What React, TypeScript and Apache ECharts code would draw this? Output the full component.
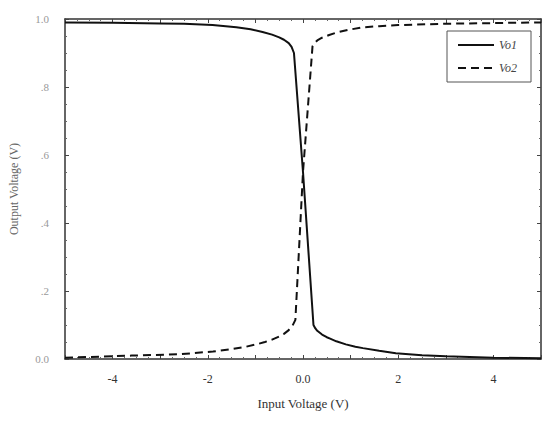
import React, { useEffect, useRef } from "react";
import * as echarts from "echarts";

const vo1: [number, number][] = [
  [-5, 0.99], [-4, 0.989], [-3, 0.987], [-2.5, 0.986], [-1.9, 0.982], [-1.4, 0.976],
  [-1.1, 0.97], [-0.85, 0.962], [-0.65, 0.954], [-0.5, 0.946], [-0.4, 0.939], [-0.3, 0.929],
  [-0.24, 0.918], [-0.19, 0.9], [0, 0.55], [0.22, 0.1], [0.26, 0.09], [0.3, 0.083],
  [0.4, 0.072], [0.5, 0.064], [0.57, 0.06], [0.7, 0.052], [0.9, 0.043], [1.1, 0.036],
  [1.26, 0.032], [1.6, 0.024], [1.95, 0.017], [2.5, 0.011], [3, 0.008], [4, 0.004], [5, 0.002],
];
const vo2: [number, number][] = [
  [-5, 0.004], [-4, 0.008], [-3.6, 0.01], [-2.58, 0.014], [-1.89, 0.022], [-1.5, 0.029],
  [-1.2, 0.036], [-0.95, 0.044], [-0.8, 0.05], [-0.65, 0.057], [-0.5, 0.066], [-0.4, 0.074],
  [-0.3, 0.085], [-0.22, 0.098], [-0.16, 0.115], [0, 0.55], [0.2, 0.92], [0.25, 0.93],
  [0.3, 0.937], [0.4, 0.945], [0.55, 0.953], [0.7, 0.96], [0.95, 0.968], [1.22, 0.975],
  [1.6, 0.979], [2, 0.982], [3, 0.986], [4, 0.988], [5, 0.99],
];
const xTickLabels: Record<string, string> = { "-4": "-4", "-2": "-2", "0": "0.0", "2": "2", "4": "4" };
const yTickLabels: Record<string, string> = { "0": "0.0", "0.2": ".2", "0.4": ".4", "0.6": ".6", "0.8": ".8", "1": "1.0" };

const FONT = "'Liberation Serif', 'DejaVu Serif', serif";

export default function App() {
  const ref = useRef<HTMLDivElement>(null);
  useEffect(() => {
    if (!ref.current) return;
    const chart = echarts.init(ref.current, undefined, { renderer: "svg" });
    const axisLine = { show: true, onZero: false, lineStyle: { color: "#333", width: 1.5 } };
    const tick = { show: true, inside: true, length: 4, lineStyle: { color: "#444" } };
    const minor = { show: true, splitNumber: 4, length: 2, lineStyle: { color: "#666" } };
    chart.setOption({
      animation: false,
      backgroundColor: "#fff",
      grid: { left: 63, right: 8, top: 19, bottom: 68 },
      legend: {
        right: 18,
        top: 31,
        orient: "vertical",
        data: ["Vo1", "Vo2"],
        itemWidth: 36,
        itemHeight: 10,
        itemGap: 11,
        padding: [8, 14, 8, 10],
        borderColor: "#555",
        borderWidth: 1,
        itemStyle: { opacity: 0 },
        textStyle: { fontFamily: FONT, fontStyle: "italic", fontSize: 12, color: "#444" },
      },
      xAxis: [
        {
          type: "value",
          min: -5,
          max: 5,
          interval: 1,
          name: "Input Voltage (V)",
          nameLocation: "middle",
          nameGap: 38,
          nameTextStyle: { fontFamily: FONT, fontSize: 13, color: "#333" },
          axisLine,
          axisTick: tick,
          minorTick: minor,
          splitLine: { show: false },
          axisLabel: {
            margin: 14,
            fontFamily: FONT,
            fontSize: 12,
            color: "#333",
            formatter: (v: number) => xTickLabels[String(v)] ?? "",
          },
        },
        {
          type: "value",
          position: "top",
          min: -5,
          max: 5,
          interval: 1,
          axisLine,
          axisTick: tick,
          minorTick: minor,
          splitLine: { show: false },
          axisLabel: { show: false },
        },
      ],
      yAxis: [
        {
          type: "value",
          min: 0,
          max: 1,
          interval: 0.2,
          name: "Output Voltage (V)",
          nameLocation: "middle",
          nameGap: 45,
          nameTextStyle: { fontFamily: FONT, fontSize: 12, color: "#666" },
          axisLine,
          axisTick: tick,
          minorTick: minor,
          splitLine: { show: false },
          axisLabel: {
            margin: 16,
            fontFamily: FONT,
            fontSize: 11,
            color: "#999",
            formatter: (v: number) => yTickLabels[String(Math.round(v * 10) / 10)] ?? "",
          },
        },
        {
          type: "value",
          position: "right",
          min: 0,
          max: 1,
          interval: 0.2,
          axisLine,
          axisTick: tick,
          minorTick: minor,
          splitLine: { show: false },
          axisLabel: { show: false },
        },
      ],
      series: [
        {
          name: "Vo1",
          type: "line",
          data: vo1,
          symbol: "none",
          smooth: false,
          lineStyle: { color: "#111", width: 2 },
          itemStyle: { color: "#111" },
        },
        {
          name: "Vo2",
          type: "line",
          data: vo2,
          symbol: "none",
          smooth: false,
          lineStyle: { color: "#111", width: 2, type: [8, 5] },
          itemStyle: { color: "#111" },
        },
      ],
    });
    return () => chart.dispose();
  }, []);
  return <div ref={ref} style={{ width: 549, height: 427, position: "absolute", left: 0, top: 0 }} />;
}
